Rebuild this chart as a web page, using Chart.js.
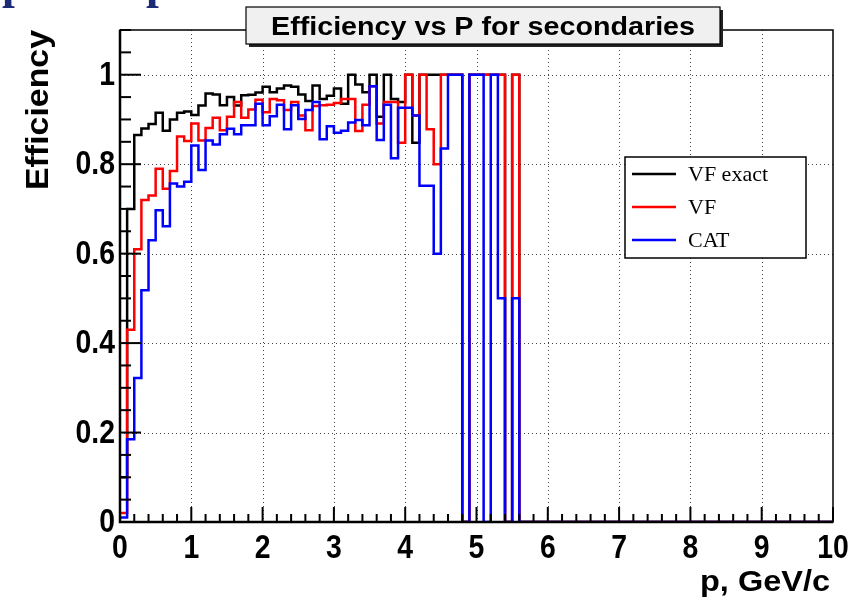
<!DOCTYPE html>
<html>
<head>
<meta charset="utf-8">
<script src="https://cdn.jsdelivr.net/npm/chart.js@4.4.1/dist/chart.umd.min.js"></script>
<style>
    html, body { margin: 0; padding: 0; background: #fff; }
    #wrap { width: 867px; height: 604px; }
</style>
</head>
<body>
<div id="wrap"><canvas id="effChart" width="867" height="604"></canvas></div>
<script>
// EFFICIENCY VS P FOR SECONDARIES
// ROOT style step histograms, 100 bins of 0.1 GeV/c

const binWidth = 0.1;
const xTickLabels = ["0", "1", "2", "3", "4", "5", "6", "7", "8", "9", "10"];
const yTickValues = [0, 0.2, 0.4, 0.6, 0.8, 1];
const yTickLabels = ["0", "0.2", "0.4", "0.6", "0.8", "1"];
const seriesNames = ["VF exact", "VF", "CAT"];

const vfExact = [
    0.10, 0.70, 0.865, 0.88, 0.89, 0.915, 0.875, 0.90, 0.915, 0.918,
    0.91, 0.931, 0.958, 0.956, 0.932, 0.95, 0.931, 0.954, 0.955, 0.96,
    0.973, 0.961, 0.969, 0.976, 0.973, 0.956, 0.941, 0.976, 0.946, 0.953,
    0.969, 0.935, 1.0, 0.978, 0.961, 1.0, 0.906, 1.0, 0.946, 0.939,
    1.0, 0.848, 1.0, 1.0, 1.0, 1.0, 1.0, 1.0, 0, 1.0,
    1.0, 1.0, 1.0, 1.0, 0, 1.0, 0, 0, 0, 0,
    0, 0, 0, 0, 0, 0, 0, 0, 0, 0,
    0, 0, 0, 0, 0, 0, 0, 0, 0, 0,
    0, 0, 0, 0, 0, 0, 0, 0, 0, 0,
    0, 0, 0, 0, 0, 0, 0, 0, 0, 0
];

const vf = [
    0.02, 0.43, 0.61, 0.72, 0.73, 0.79, 0.745, 0.785, 0.862, 0.852,
    0.891, 0.853, 0.881, 0.904, 0.876, 0.906, 0.939, 0.904, 0.922, 0.944,
    0.916, 0.946, 0.943, 0.921, 0.939, 0.909, 0.876, 0.93, 0.932, 0.933,
    0.937, 0.946, 0.946, 0.874, 0.933, 0.974, 0.891, 0.939, 0.939, 0.848,
    1.0, 0.909, 1.0, 0.878, 0.8, 1.0, 1.0, 1.0, 0, 1.0,
    1.0, 1.0, 1.0, 1.0, 0, 1.0, 0, 0, 0, 0,
    0, 0, 0, 0, 0, 0, 0, 0, 0, 0,
    0, 0, 0, 0, 0, 0, 0, 0, 0, 0,
    0, 0, 0, 0, 0, 0, 0, 0, 0, 0,
    0, 0, 0, 0, 0, 0, 0, 0, 0, 0
];

const cat = [
    0.01, 0.185, 0.322, 0.518, 0.63, 0.697, 0.661, 0.757, 0.75, 0.761,
    0.842, 0.787, 0.853, 0.844, 0.867, 0.879, 0.867, 0.887, 0.887, 0.935,
    0.887, 0.907, 0.933, 0.878, 0.932, 0.901, 0.921, 0.939, 0.856, 0.885,
    0.87, 0.875, 0.893, 0.899, 0.887, 0.974, 0.854, 0.933, 0.813, 0.926,
    0.926, 0.909, 0.752, 0.752, 0.6, 0.835, 1.0, 1.0, 0, 1.0,
    1.0, 0, 1.0, 0.5, 0, 0.5, 0, 0, 0, 0,
    0, 0, 0, 0, 0, 0, 0, 0, 0, 0,
    0, 0, 0, 0, 0, 0, 0, 0, 0, 0,
    0, 0, 0, 0, 0, 0, 0, 0, 0, 0,
    0, 0, 0, 0, 0, 0, 0, 0, 0, 0
];

// bin contents -> points at the left bin edges (+ closing point at x max)
function toSteps(values) {
    const pts = values.map((v, i) => ({ x: +(i * binWidth).toFixed(2), y: v }));
    pts.push({ x: +(values.length * binWidth).toFixed(2), y: values[values.length - 1] });
    return pts;
}

// draw text squeezed/stretched to a given width
function fitText(ctx, text, x, y, width, font, align) {
    ctx.save();
    ctx.font = font;
    const w = ctx.measureText(text).width;
    const s = width / w;
    ctx.translate(x, y);
    ctx.scale(s, 1);
    ctx.textAlign = align || "left";
    ctx.fillText(text, 0, 0);
    ctx.restore();
}

// condensed text (fixed horizontal squeeze)
function narrowText(ctx, text, x, y, squeeze, align) {
    ctx.save();
    ctx.translate(x, y);
    ctx.scale(squeeze, 1);
    ctx.textAlign = align;
    ctx.fillText(text, 0, 0);
    ctx.restore();
}

const rootFrame = {
    id: "rootFrame",
    beforeDatasetsDraw(chart) {
        const { ctx, chartArea: a, scales: { x, y } } = chart;
        ctx.save();
        ctx.strokeStyle = "#444";
        ctx.lineWidth = 1;
        ctx.setLineDash([1, 3]);
        for (let i = 1; i < xTickLabels.length - 1; i++) {
            const px = Math.round(x.getPixelForValue(i)) + 0.5;
            ctx.beginPath();
            ctx.moveTo(px, a.top);
            ctx.lineTo(px, a.bottom);
            ctx.stroke();
        }
        yTickValues.slice(1).forEach(v => {
            const py = Math.round(y.getPixelForValue(v)) + 0.5;
            ctx.beginPath();
            ctx.moveTo(a.left, py);
            ctx.lineTo(a.right, py);
            ctx.stroke();
        });
        ctx.restore();
    },
    afterDatasetsDraw(chart) {
        const { ctx, chartArea: a, scales: { x, y } } = chart;
        ctx.save();

        // frame
        ctx.strokeStyle = "#000";
        ctx.lineWidth = 1.5;
        ctx.strokeRect(a.left, a.top, a.right - a.left, a.bottom - a.top);
        ctx.lineWidth = 2.5;
        ctx.beginPath();
        ctx.moveTo(a.left, a.top);
        ctx.lineTo(a.left, a.bottom);
        ctx.lineTo(a.right, a.bottom);
        ctx.stroke();

        // ticks (inside the frame)
        ctx.lineWidth = 2;
        for (let v = 0; v <= 10.001; v += 0.2) {
            const major = Math.abs(v - Math.round(v)) < 0.01;
            const px = x.getPixelForValue(v);
            ctx.beginPath();
            ctx.moveTo(px, a.bottom);
            ctx.lineTo(px, a.bottom - (major ? 15 : 8));
            ctx.stroke();
        }
        for (let k = 0; k <= 22; k++) {
            const v = k * 0.05;
            const major = k % 4 === 0;
            const py = y.getPixelForValue(v);
            ctx.beginPath();
            ctx.moveTo(a.left, py);
            ctx.lineTo(a.left + (major ? 21 : 11), py);
            ctx.stroke();
        }

        // tick labels
        ctx.fillStyle = "#000";
        ctx.font = "bold 33px 'Liberation Sans', Arial, sans-serif";
        ctx.textBaseline = "middle";
        yTickValues.forEach((v, i) => {
            narrowText(ctx, yTickLabels[i], a.left - 5, y.getPixelForValue(v) + 1, 0.86, "right");
        });
        xTickLabels.forEach((lab, i) => {
            narrowText(ctx, lab, x.getPixelForValue(i), a.bottom + 27, 0.86, "center");
        });

        // axis titles
        ctx.textBaseline = "alphabetic";
        fitText(ctx, "p, GeV/c", 830, 591, 130, "bold 30px 'Liberation Sans', Arial, sans-serif", "right");
        ctx.save();
        ctx.translate(48, 30);
        ctx.rotate(-Math.PI / 2);
        fitText(ctx, "Efficiency", 0, 0, 160, "bold 31px 'Liberation Sans', Arial, sans-serif", "right");
        ctx.restore();

        // legend box
        const lx = 625, ly = 157, lw = 181, lh = 101;
        ctx.fillStyle = "#fff";
        ctx.fillRect(lx, ly, lw, lh);
        ctx.strokeStyle = "#000";
        ctx.lineWidth = 1.5;
        ctx.strokeRect(lx, ly, lw, lh);
        const colours = ["#000000", "#ff0000", "#0000ff"];
        ctx.font = "22px 'Liberation Serif', 'Times New Roman', serif";
        ctx.textAlign = "left";
        ctx.textBaseline = "middle";
        seriesNames.forEach((name, i) => {
            const ry = ly + 17 + i * 33;
            ctx.strokeStyle = colours[i];
            ctx.lineWidth = 2.5;
            ctx.beginPath();
            ctx.moveTo(lx + 7, ry);
            ctx.lineTo(lx + 51, ry);
            ctx.stroke();
            ctx.fillStyle = "#000";
            ctx.fillText(name, lx + 63, ry + 1);
        });

        // title box with shadow
        const tx = 246, ty = 7, tw = 474, th = 37;
        ctx.fillStyle = "#222";
        ctx.fillRect(tx + 3, ty + 3, tw, th);
        ctx.fillStyle = "#f0f0f0";
        ctx.fillRect(tx, ty, tw, th);
        ctx.strokeStyle = "#000";
        ctx.lineWidth = 1.2;
        ctx.strokeRect(tx, ty, tw, th);
        ctx.fillStyle = "#000";
        ctx.textBaseline = "alphabetic";
        fitText(ctx, "Efficiency vs P for secondaries", tx + tw / 2, ty + 28, 424,
            "bold 26px 'Liberation Sans', Arial, sans-serif", "center");

        // clipped slide heading remnants at the very top
        ctx.fillStyle = "#1c2a78";
        ctx.font = "bold 46px 'Liberation Serif', serif";
        ctx.textAlign = "left";
        ctx.fillText("p", 2, -2);
        ctx.fillText("p", 146, -2);

        ctx.restore();
    }
};

const ctx = document.getElementById("effChart");

new Chart(ctx, {
    type: "line",
    data: {
        datasets: [
            { label: seriesNames[0], data: toSteps(vfExact), borderColor: "#000000", order: 3 },
            { label: seriesNames[1], data: toSteps(vf), borderColor: "#ff0000", order: 2 },
            { label: seriesNames[2], data: toSteps(cat), borderColor: "#0000ff", order: 1 }
        ]
    },
    options: {
        responsive: false,
        animation: false,
        devicePixelRatio: 1,
        layout: {
            padding: { left: 120, right: 34, top: 30, bottom: 82 }
        },
        datasets: {
            line: {
                stepped: "before",
                borderWidth: 2.5,
                pointRadius: 0,
                fill: false,
                tension: 0
            }
        },
        scales: {
            x: { type: "linear", min: 0, max: 10, display: false },
            y: { type: "linear", min: 0, max: 1.1, display: false }
        },
        plugins: {
            legend: { display: false },
            tooltip: { enabled: false }
        }
    },
    plugins: [rootFrame]
});
</script>
</body>
</html>
